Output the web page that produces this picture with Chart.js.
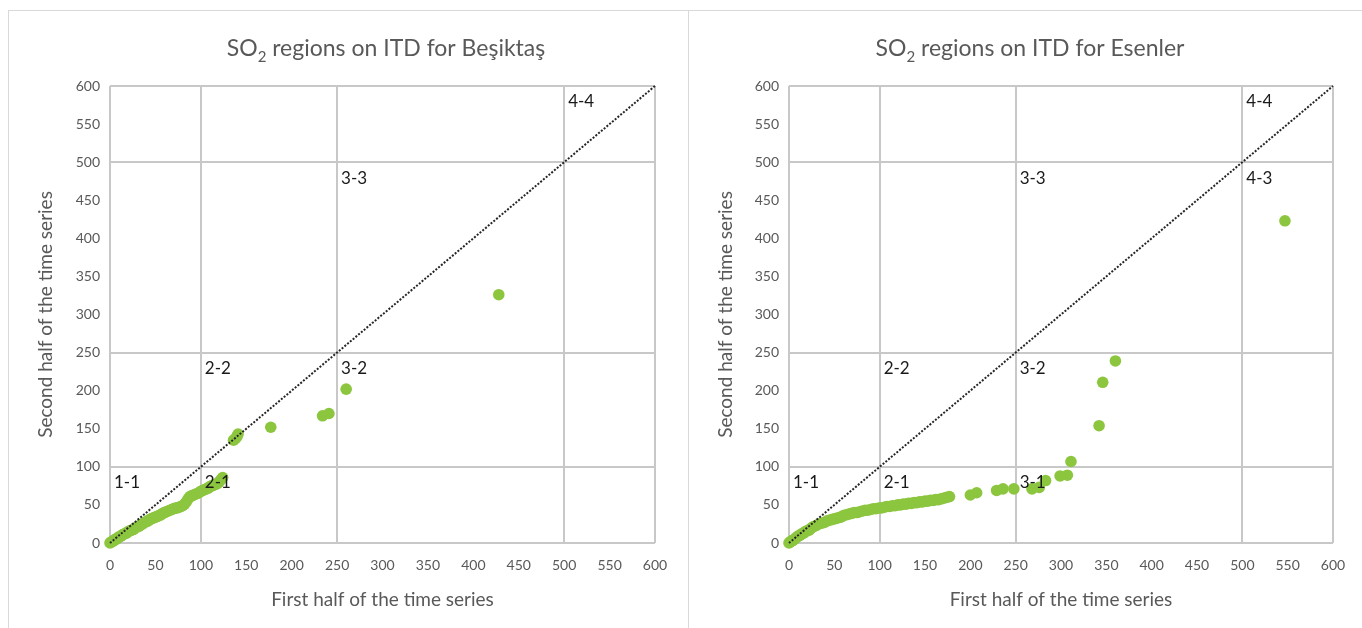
<!DOCTYPE html>
<html>
<head>
<meta charset="utf-8">
<script src="https://cdn.jsdelivr.net/npm/chart.js@4/dist/chart.umd.min.js"></script>
<style>
  html, body { margin: 0; padding: 0; background: #fff; width: 1362px; height: 628px; overflow: hidden; position: relative; }
  .panel { position: absolute; top: 10px; height: 640px; border: 1px solid #d9d9d9; box-sizing: border-box; }
  canvas { position: absolute; top: 10px; }
</style>
</head>
<body>
<div class="panel" style="left:8px;width:681px"></div>
<div class="panel" style="left:688px;width:700px"></div>
<canvas id="besiktas" width="680" height="618" style="left:8px"></canvas>
<canvas id="esenler" width="674" height="618" style="left:688px"></canvas>
<script>
// Tick marks shared by both axes, and the concentration class limits (region borders)
const tickValues = [0, 50, 100, 150, 200, 250, 300, 350, 400, 450, 500, 550, 600];
const regionBounds = [0, 100, 250, 500, 600];

// Beşiktaş: sorted SO2 values, first half vs second half of the series
const besiktasFirstHalf = [
  0, 1, 2, 3, 4, 5, 6, 7, 8, 9, 10, 12, 14, 16, 18, 20, 22, 24, 26, 28,
  30, 32, 34, 36, 38, 40, 42, 44, 46, 48, 50, 52, 54, 56, 58, 60, 62, 64, 66, 68,
  70, 72, 74, 76, 78, 80, 82, 84, 86, 88, 90, 92, 94, 96, 98, 100, 102, 104, 106, 108,
  110, 112, 114, 116, 118, 120, 122, 124,
  136, 138, 140, 141, 177, 234, 241, 260, 428
];
const besiktasSecondHalf = [
  0, 1, 2, 2, 3, 4, 5, 5, 6, 7, 8, 9, 11, 12, 13, 15, 16, 17, 18, 20,
  21, 22, 24, 25, 27, 28, 29, 31, 32, 33, 34, 35, 36, 37, 39, 40, 41, 42, 43, 44,
  45, 46, 46, 47, 48, 49, 51, 54, 58, 61, 62, 63, 64, 65, 66, 68, 69, 70, 71, 72,
  74, 75, 76, 77, 78, 80, 83, 86,
  135, 137, 140, 143, 152, 167, 170, 202, 326
];
const besiktasRegions = ['1-1', '2-1', '2-2', '3-2', '3-3', '4-4'];

// Esenler: sorted SO2 values, first half vs second half of the series
const esenlerFirstHalf = [
  0, 1, 2, 3, 4, 5, 6, 8, 10, 12, 14, 16, 18, 20, 22, 24, 26, 28, 30, 33,
  36, 39, 42, 45, 48, 51, 54, 57, 60, 63, 66, 69, 72, 75, 78, 81, 84, 87, 90, 93,
  96, 99, 102, 105, 108, 111, 114, 117, 120, 123, 126, 129, 132, 135, 138, 141, 144, 147, 150, 153,
  156, 159, 162, 165, 168, 171, 174, 177,
  200, 207, 229, 236, 248, 268, 276, 283, 299, 307, 311, 342, 346, 360, 547
];
const esenlerSecondHalf = [
  0, 1, 2, 3, 3, 4, 5, 7, 9, 10, 12, 13, 15, 16, 17, 19, 21, 22, 23, 25,
  26, 27, 29, 30, 31, 32, 33, 34, 36, 37, 38, 39, 40, 40, 41, 42, 43, 43, 44, 45,
  45, 46, 46, 47, 48, 48, 49, 49, 50, 50, 51, 51, 52, 52, 53, 53, 54, 54, 55, 55,
  56, 56, 57, 57, 58, 59, 60, 61,
  63, 66, 69, 71, 71, 71, 73, 82, 88, 89, 107, 154, 211, 239, 423
];
const esenlerRegions = ['1-1', '2-1', '2-2', '3-1', '3-2', '3-3', '4-3', '4-4'];

const xAxisTitle = 'First half of the time series';
const yAxisTitle = 'Second half of the time series';
const besiktasTitle = ['SO', '2', ' regions on ITD for Beşiktaş'];
const esenlerTitle = ['SO', '2', ' regions on ITD for Esenler'];

const FONT = 'Lato, "Open Sans", sans-serif';
const TEXT_GREY = '#595959';
const GRID_GREY = '#c8c8c8';
const POINT_GREEN = '#8cc63f';

// Chart title with a subscript "2"
const so2TitlePlugin = {
  id: 'so2Title',
  afterDraw(chart, args, o) {
    const ctx = chart.ctx;
    const big = `${o.size}px ${FONT}`;
    const small = `${Math.round(o.size * 0.66)}px ${FONT}`;
    const [before, sub, after] = o.parts;
    ctx.save();
    ctx.fillStyle = o.color;
    ctx.textBaseline = 'alphabetic';
    ctx.textAlign = 'left';
    ctx.font = big;
    const w1 = ctx.measureText(before).width;
    const w3 = ctx.measureText(after).width;
    ctx.font = small;
    const w2 = ctx.measureText(sub).width;
    let x = o.centerX - (w1 + w2 + w3) / 2;
    const y = o.baseline;
    ctx.font = big; ctx.fillText(before, x, y); x += w1;
    ctx.font = small; ctx.fillText(sub, x, y + o.size * 0.24); x += w2;
    ctx.font = big; ctx.fillText(after, x, y);
    ctx.restore();
  }
};

// "i-j" labels in the upper-left corner of each region cell
const regionLabelPlugin = {
  id: 'regionLabels',
  afterDatasetsDraw(chart, args, o) {
    const ctx = chart.ctx;
    const xs = chart.scales.x, ys = chart.scales.y;
    ctx.save();
    ctx.font = `${o.size}px ${FONT}`;
    ctx.fillStyle = o.color;
    ctx.textAlign = 'left';
    ctx.textBaseline = 'middle';
    o.labels.forEach(lbl => {
      const [i, j] = lbl.split('-').map(Number);
      const px = xs.getPixelForValue(regionBounds[i - 1]) + o.dx;
      const py = ys.getPixelForValue(regionBounds[j]) + o.dy;
      ctx.fillText(lbl, px, py);
    });
    ctx.restore();
  }
};

const gridColor = ctx => (ctx.tick && regionBounds.includes(ctx.tick.value)) ? GRID_GREY : 'rgba(0,0,0,0)';
const setTicks = s => { s.ticks = tickValues.map(v => ({ value: v })); };

function buildChart(id, first, second, titleParts, titleX, regions, yWidth, padRight) {
  const points = first.map((v, i) => ({ x: v, y: second[i] }));
  const top = regionBounds[regionBounds.length - 1];
  const diagonal = [{ x: regionBounds[0], y: regionBounds[0] }, { x: top, y: top }];
  return new Chart(document.getElementById(id), {
    type: 'scatter',
    data: {
      datasets: [
        {
          type: 'line', data: diagonal, borderColor: '#262626', borderWidth: 2,
          borderDash: [2, 1.6], pointRadius: 0, fill: false, order: 0, clip: false
        },
        {
          data: points, backgroundColor: POINT_GREEN, borderWidth: 0,
          pointRadius: 5.8, pointHoverRadius: 5.8, order: 1, clip: false
        }
      ]
    },
    options: {
      responsive: false,
      devicePixelRatio: 1,
      animation: false,
      events: [],
      layout: { padding: { top: 76, right: padRight, bottom: 0, left: 0 } },
      plugins: {
        legend: { display: false },
        tooltip: { enabled: false },
        so2Title: { parts: titleParts, centerX: titleX, baseline: 46, size: 23, color: TEXT_GREY },
        regionLabels: { labels: regions, size: 17, color: '#1a1a1a', dx: 4, dy: 16 }
      },
      scales: {
        x: {
          type: 'linear', min: 0, max: top,
          afterBuildTicks: setTicks,
          afterFit: s => { s.height = 85; },
          grid: { color: gridColor, lineWidth: 2, drawTicks: false },
          border: { display: false },
          ticks: { padding: 14, color: TEXT_GREY, font: { family: FONT, size: 14 }, maxRotation: 0, autoSkip: false },
          title: { display: true, text: xAxisTitle, color: TEXT_GREY, font: { family: FONT, size: 19 }, padding: { top: 0, bottom: 17 } }
        },
        y: {
          type: 'linear', min: 0, max: top,
          afterBuildTicks: setTicks,
          afterFit: s => { s.width = yWidth; },
          grid: { color: gridColor, lineWidth: 2, drawTicks: false },
          border: { display: false },
          ticks: { padding: 10, color: TEXT_GREY, font: { family: FONT, size: 14 }, autoSkip: false },
          title: { display: true, text: yAxisTitle, color: TEXT_GREY, font: { family: FONT, size: 19 }, padding: { top: 26, bottom: 0 } }
        }
      }
    },
    plugins: [so2TitlePlugin, regionLabelPlugin]
  });
}

buildChart('besiktas', besiktasFirstHalf, besiktasSecondHalf, besiktasTitle, 378, besiktasRegions, 102, 33);
buildChart('esenler', esenlerFirstHalf, esenlerSecondHalf, esenlerTitle, 342, esenlerRegions, 101, 29);
</script>
</body>
</html>
